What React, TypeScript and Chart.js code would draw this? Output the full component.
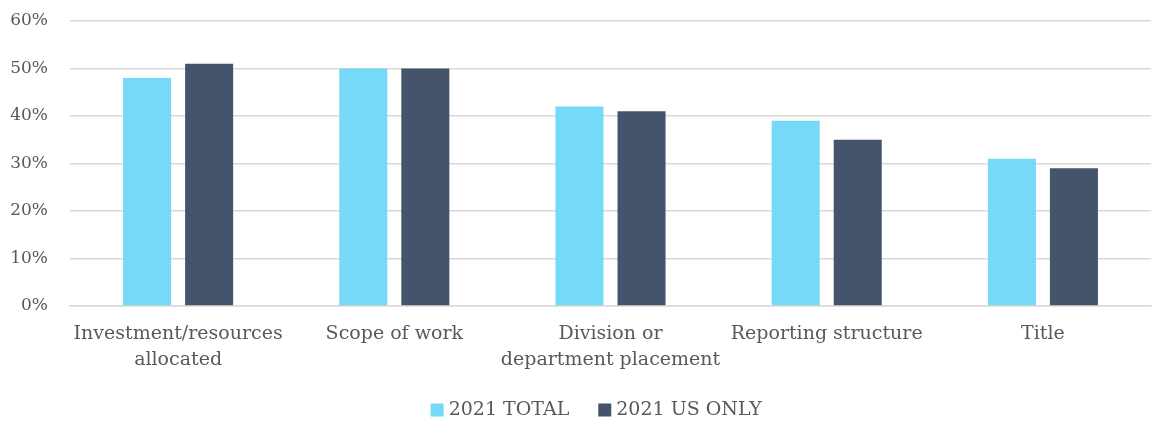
import React, { useEffect, useRef } from "react";
import { Chart, registerables } from "chart.js";

Chart.register(...registerables);

const categories: (string | string[])[] = [
  ["Investment/resources", "allocated"],
  "Scope of work",
  ["Division or", "department placement"],
  "Reporting structure",
  "Title",
];
const total2021 = [48, 50, 42, 39, 31];
const usOnly2021 = [51, 50, 41, 35, 29];
const seriesNames = ["2021 TOTAL", "2021 US ONLY"];
const yTicks = [0, 10, 20, 30, 40, 50, 60];

const FONT = "'DejaVu Serif', 'Liberation Serif', serif";
const TEXT = "#595959";
const LEFT_PAD = 46;

export default function App() {
  const ref = useRef<HTMLCanvasElement | null>(null);
  useEffect(() => {
    if (!ref.current) return;
    const chart = new Chart(ref.current, {
      type: "bar",
      data: {
        labels: categories,
        datasets: [
          {
            label: seriesNames[0],
            data: total2021,
            backgroundColor: "#75D9F7",
            categoryPercentage: 0.574,
            barPercentage: 0.774,
          },
          {
            label: seriesNames[1],
            data: usOnly2021,
            backgroundColor: "#44546A",
            categoryPercentage: 0.574,
            barPercentage: 0.774,
          },
        ],
      },
      options: {
        animation: false,
        responsive: true,
        maintainAspectRatio: false,
        layout: { padding: { top: 21, right: 2, left: LEFT_PAD, bottom: -7.5 } },
        plugins: {
          tooltip: { enabled: false },
          legend: {
            position: "bottom",
            labels: {
              usePointStyle: true,
              pointStyle: "rect",
              boxWidth: 4,
              boxHeight: 13,
              padding: 33.5,
              color: TEXT,
              font: { family: FONT, size: 19 },
            },
          },
        },
        scales: {
          x: {
            grid: { display: false, drawTicks: false },
            border: { display: true, color: "#D9D9D9", width: 1.5 },
            ticks: {
              color: TEXT,
              padding: 15,
              font: { family: FONT, size: 19, lineHeight: 26 / 19 },
              maxRotation: 0,
              autoSkip: false,
            },
            afterFit: (axis: any) => {
              axis.height = 61;
              axis.paddingLeft = 0;
              axis.paddingRight = 0;
              axis._computeLabelArea = () => undefined;
            },
          },
          y: {
            min: 0,
            max: 60,
            afterBuildTicks: (axis: any) => {
              axis.ticks = yTicks.map((v) => ({ value: v }));
            },
            grid: { color: "#D9D9D9", drawTicks: false, lineWidth: 1.5 },
            border: { display: false },
            ticks: {
              color: TEXT,
              padding: 22,
              font: { family: FONT, size: 17 },
              callback: (v: any) => v + "%",
            },
            afterFit: (axis: any) => {
              axis.width = 70 - LEFT_PAD;
              axis.paddingTop = 0;
              axis.paddingBottom = 0;
              axis._computeLabelArea = () => undefined;
            },
          },
        },
      },
    });
    return () => chart.destroy();
  }, []);
  return (
    <div style={{ position: "fixed", left: 0, top: 0, width: 1153, height: 422, background: "#fff" }}>
      <canvas ref={ref} />
    </div>
  );
}
